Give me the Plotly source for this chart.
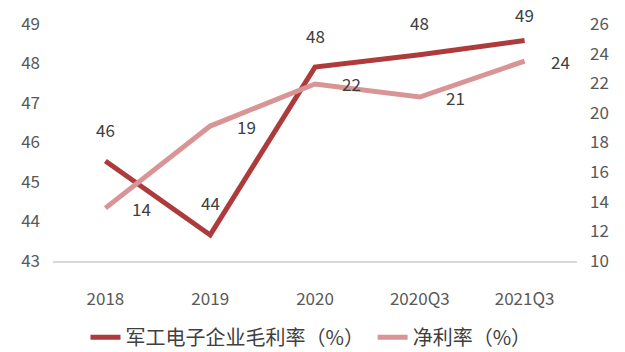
import plotly.graph_objects as go

categories = ["2018", "2019", "2020", "2020Q3", "2021Q3"]
gross_margin = [45.53, 43.66, 47.91, 48.22, 48.58]
gross_labels = ["46", "44", "48", "48", "49"]
net_margin = [13.57, 19.11, 21.95, 21.07, 23.5]
net_labels = ["14", "19", "22", "21", "24"]

dark = "#AD3B3B"
light = "#D99595"
txt = "#404040"
font_family = "Noto Sans CJK SC, Noto Sans, sans-serif"

fig = go.Figure()
fig.add_trace(go.Scatter(
    x=categories, y=gross_margin, mode="lines", name="军工电子企业毛利率（%）",
    line=dict(color=dark, width=5), yaxis="y", legend="legend",
))
fig.add_trace(go.Scatter(
    x=categories, y=net_margin, mode="lines", name="净利率（%）",
    line=dict(color=light, width=5), yaxis="y2", legend="legend2",
))

annotations = []
for i, (v, t) in enumerate(zip(gross_margin, gross_labels)):
    shift = 32 if v < 48.4 else 26
    annotations.append(dict(x=i, y=v, xref="x", yref="y", text=t, showarrow=False,
                            yshift=shift, font=dict(size=17, color=txt, family=font_family)))
for i, (v, t) in enumerate(zip(net_margin, net_labels)):
    annotations.append(dict(x=i, y=v, xref="x", yref="y2", text=t, showarrow=False,
                            xshift=36, font=dict(size=17, color=txt, family=font_family)))

legend_common = dict(orientation="h", xanchor="left", y=-0.322, yanchor="middle",
                     font=dict(size=20, color="#404040"), bgcolor="rgba(0,0,0,0)")

fig.update_layout(
    width=625, height=352,
    margin=dict(l=52.5, r=47.5, t=24, b=91, autoexpand=False),
    paper_bgcolor="white", plot_bgcolor="white",
    font=dict(family=font_family, color="#595959", size=17),
    showlegend=True,
    legend=dict(x=0.062, **legend_common),
    legend2=dict(x=0.61, **legend_common),
    xaxis=dict(type="category", range=[-0.5, 4.5], showgrid=False, automargin=False,
               showline=True, linecolor="#D9D9D9", linewidth=1.5, ticks="",
               ticklabelstandoff=22, tickfont=dict(size=17, color="#595959")),
    yaxis=dict(range=[43, 49], dtick=1, showgrid=False, zeroline=False, showline=False,
               automargin=False,
               ticks="", ticklabelstandoff=12, tickfont=dict(size=17, color="#595959")),
    yaxis2=dict(range=[10, 26], dtick=2, overlaying="y", side="right", showgrid=False,
                automargin=False,
                zeroline=False, showline=False, ticks="", ticklabelstandoff=12,
                tickfont=dict(size=17, color="#595959")),
    annotations=annotations,
)

fig.write_html("out.html")
